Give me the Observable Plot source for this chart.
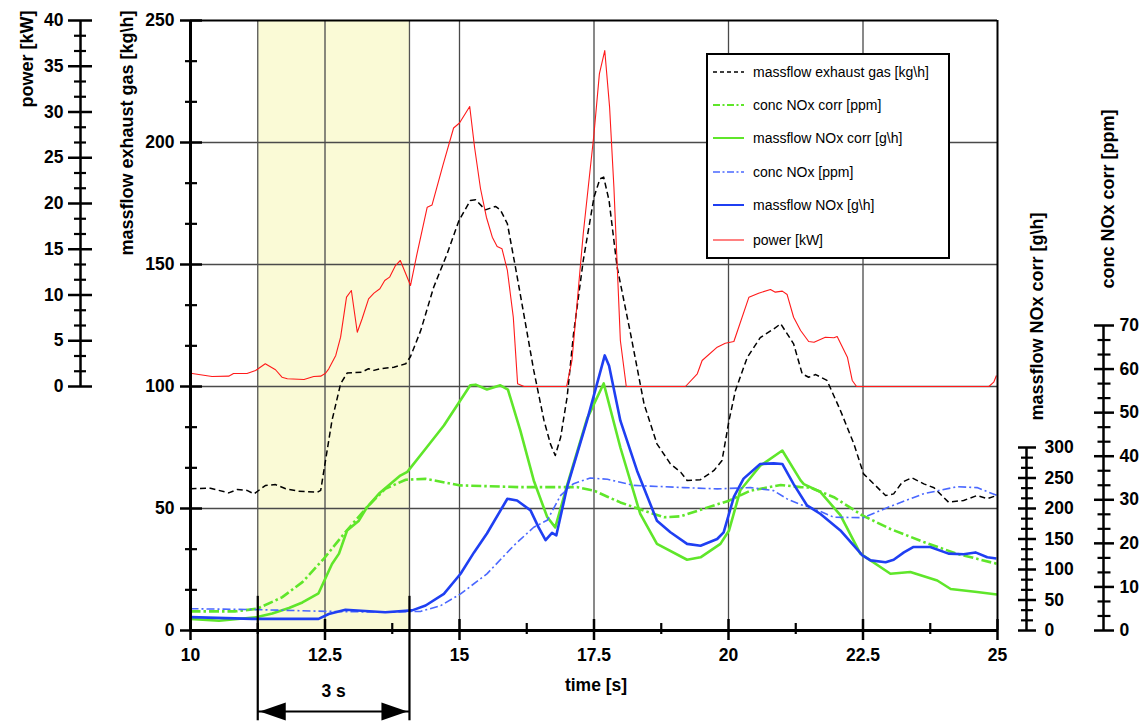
<!DOCTYPE html>
<html>
<head>
<meta charset="utf-8">
<script src="https://cdn.jsdelivr.net/npm/d3@7"></script>
<script src="https://cdn.jsdelivr.net/npm/@observablehq/plot@0.6"></script>
<style>
  body { margin: 0; background: #fff; }
  #wrap { position: relative; width: 1145px; height: 722px; font-family: "Liberation Sans", Arial, sans-serif; }
  #legend { position: absolute; left: 706px; top: 53px; }
</style>
</head>
<body>
<div id="wrap"></div>
<script>
// ---------- data (time [s], value in the series' own unit) ----------
const powerKW = [[10.00,1.45],[10.40,1.09],[10.71,1.13],[10.80,1.42],[11.05,1.42],[11.21,1.75],[11.39,2.48],[11.58,1.83],[11.70,1.02],[11.80,0.84],[12.11,0.77],[12.29,1.09],[12.42,1.13],[12.51,1.45],[12.57,1.93],[12.70,3.39],[12.79,5.39],[12.90,9.76],[12.99,10.49],[13.10,5.93],[13.19,7.40],[13.31,9.58],[13.41,10.20],[13.52,10.68],[13.61,11.58],[13.70,11.95],[13.81,13.22],[13.90,13.77],[14.09,11.04],[14.21,14.50],[14.40,19.60],[14.49,19.84],[14.69,24.15],[14.89,28.25],[15.00,28.80],[15.19,30.60],[15.28,26.15],[15.39,21.64],[15.50,18.50],[15.61,16.32],[15.70,15.30],[15.79,15.05],[15.89,12.68],[16.00,7.57],[16.08,0.30],[16.20,0],[16.99,0],[17.09,2.84],[17.19,9.40],[17.30,16.69],[17.50,27.62],[17.60,34.17],[17.70,36.72],[17.79,30.52],[17.87,21.78],[17.99,5.03],[18.10,0],[19.20,0],[19.42,1.39],[19.51,2.84],[19.79,4.30],[19.94,4.73],[20.10,4.92],[20.38,9.76],[20.56,10.20],[20.78,10.60],[20.87,10.31],[21.00,10.42],[21.09,10.05],[21.21,7.57],[21.34,6.12],[21.49,4.92],[21.59,4.84],[21.80,5.39],[21.96,5.32],[22.02,5.46],[22.21,3.20],[22.30,0.66],[22.38,0],[24.84,0],[24.93,0.47],[24.98,1.20]];

const exhaustKgh = [[10.00,58.1],[10.37,58.3],[10.71,56.4],[10.87,57.8],[11.05,57.4],[11.18,56.0],[11.39,59.4],[11.58,59.8],[11.77,58.1],[12.01,57.1],[12.36,56.7],[12.42,57.4],[12.51,69.7],[12.63,86.1],[12.79,101.1],[12.91,105.5],[13.19,105.9],[13.31,107.3],[13.41,106.6],[13.53,107.3],[13.78,107.9],[14.00,109.3],[14.09,112.3],[14.28,123.0],[14.52,140.7],[14.77,154.4],[14.99,168.0],[15.20,176.2],[15.30,176.5],[15.48,172.4],[15.67,173.8],[15.76,172.4],[15.89,166.7],[16.04,148.9],[16.26,121.6],[16.38,106.6],[16.57,86.1],[16.69,76.5],[16.78,71.7],[16.88,79.2],[17.00,95.6],[17.12,121.6],[17.30,151.6],[17.50,177.6],[17.61,185.1],[17.68,185.8],[17.78,176.2],[17.93,148.9],[18.18,121.6],[18.43,92.9],[18.67,76.5],[18.92,68.3],[19.11,64.9],[19.23,61.5],[19.48,61.8],[19.73,65.6],[19.88,69.7],[20.01,86.1],[20.13,98.4],[20.35,112.0],[20.59,120.0],[20.84,123.6],[20.97,125.7],[21.21,117.5],[21.37,105.2],[21.49,103.8],[21.62,104.9],[21.83,102.5],[22.08,90.2],[22.33,76.5],[22.51,64.2],[22.70,60.1],[22.92,55.3],[23.07,56.0],[23.23,60.8],[23.41,62.6],[23.63,60.1],[23.82,58.5],[24.09,52.6],[24.37,53.3],[24.62,55.3],[24.81,54.0],[24.98,55.3]];

const concNOxCorrPpm = [[10.00,4.4],[10.84,4.4],[11.24,5.0],[11.70,7.6],[12.08,11.1],[12.48,16.5],[12.88,22.6],[13.28,28.3],[13.62,32.5],[14.00,34.6],[14.37,34.8],[15.02,33.3],[16.13,32.9],[16.88,32.9],[17.19,32.9],[17.50,32.1],[17.75,30.7],[17.99,29.4],[18.43,27.5],[18.80,26.0],[19.11,26.2],[19.60,28.2],[20.01,29.8],[20.41,32.1],[20.97,33.4],[21.34,32.9],[21.52,32.8],[21.96,30.6],[22.49,26.4],[23.01,23.3],[23.63,20.3],[24.25,17.6],[24.99,15.3]];

const massflowNOxCorrGh = [[10.00,19],[10.53,16],[11.24,22],[11.52,28],[11.83,37],[12.08,46],[12.38,61],[12.63,109],[12.76,126],[12.91,164],[13.13,180],[13.28,202],[13.50,224],[13.90,254],[14.03,260],[14.37,298],[14.71,336],[15.20,402],[15.30,403],[15.51,395],[15.76,402],[15.90,395],[16.13,328],[16.38,246],[16.63,186],[16.78,169],[17.00,238],[17.37,347],[17.68,405],[17.99,300],[18.36,191],[18.67,142],[19.23,116],[19.48,120],[19.85,142],[20.01,164],[20.22,230],[20.59,270],[21.00,295],[21.34,246],[21.40,240],[21.71,227],[22.08,189],[22.45,126],[23.01,93],[23.38,96],[23.88,82],[24.13,68],[24.62,63],[24.99,59]];

const concNOxPpm = [[10.00,5.0],[11.21,4.8],[12.51,4.4],[13.62,4.2],[14.28,4.4],[14.65,5.7],[15.02,8.4],[15.51,13.0],[16.01,19.5],[16.38,23.7],[16.63,25.3],[16.88,31.0],[17.12,33.7],[17.43,35.0],[17.75,34.7],[18.24,33.3],[19.17,32.8],[19.79,32.5],[20.41,32.8],[20.84,32.1],[21.09,30.2],[21.34,28.9],[21.52,28.3],[21.96,26.0],[22.51,25.9],[23.01,28.5],[23.63,31.4],[24.25,33.0],[24.62,32.8],[24.99,31.0]];

const massflowNOxGh = [[10.00,22],[11.15,19],[12.38,19],[12.57,27],[12.88,34],[13.62,30],[14.12,33],[14.37,41],[14.71,60],[15.02,93],[15.27,128],[15.51,159],[15.89,216],[16.07,213],[16.32,197],[16.47,169],[16.60,148],[16.72,160],[16.80,156],[17.00,235],[17.37,344],[17.70,451],[17.78,434],[17.99,344],[18.30,262],[18.67,180],[18.92,161],[19.23,142],[19.48,139],[19.79,150],[19.91,161],[20.10,219],[20.28,249],[20.59,273],[20.84,274],[21.00,273],[21.21,240],[21.46,205],[21.71,191],[22.08,164],[22.49,123],[22.64,115],[22.92,112],[23.07,116],[23.26,128],[23.44,137],[23.75,137],[24.09,126],[24.37,125],[24.59,128],[24.81,120],[24.98,118]];

// tick labels
const xTicks = [10, 12.5, 15, 17.5, 20, 22.5, 25];
const yTicks = [0, 50, 100, 150, 200, 250];        // massflow exhaust gas [kg\h]
const powerTicks = [0, 5, 10, 15, 20, 25, 30, 35, 40]; // power [kW]
const ghTicks = [0, 50, 100, 150, 200, 250, 300];   // massflow NOx corr [g\h]
const ppmTicks = [0, 10, 20, 30, 40, 50, 60, 70];   // conc NOx corr [ppm]

// highlighted window
const windowSpan = {start: 11.25, end: 14.07, label: "3 s"};

// ---------- secondary axes -> primary (kg\h) axis ----------
const conv = {
  kgh: v => v,
  kW: v => 100 + v * 3.75,       // 0..40 kW  <-> 100..250
  gh: v => v / 4,                // 0..300 g\h <-> 0..75
  ppm: v => v * 125 / 70         // 0..70 ppm <-> 0..125
};
const inv = {
  kW: d => (d - 100) / 3.75,
  gh: d => d * 4,
  ppm: d => d * 70 / 125
};

const series = [
  {name: "massflow exhaust gas [kg\\h]", data: exhaustKgh, unit: "kgh", stroke: "#000000", width: 1.5, dash: "6,3.5"},
  {name: "conc NOx corr [ppm]", data: concNOxCorrPpm, unit: "ppm", stroke: "#5fe62a", width: 2.6, dash: "10,3,2.5,3"},
  {name: "massflow NOx corr [g\\h]", data: massflowNOxCorrGh, unit: "gh", stroke: "#5fe62a", width: 2.6, dash: null},
  {name: "conc NOx [ppm]", data: concNOxPpm, unit: "ppm", stroke: "#4a68ff", width: 1.6, dash: "8,3,2,3"},
  {name: "massflow NOx [g\\h]", data: massflowNOxGh, unit: "gh", stroke: "#1f3ff2", width: 2.6, dash: null},
  {name: "power [kW]", data: powerKW, unit: "kW", stroke: "#ff1a1a", width: 1.1, dash: null}
];

const rows = series.flatMap(s => s.data.map(([t, v]) => ({series: s.name, t, y: conv[s.unit](v)})));

// minor ticks
const minor = (lo, hi, step, majorStep) =>
  d3.range(0, Math.round((hi - lo) / step) + 1).map(i => lo + i * step)
    .filter(v => Math.abs((v - lo) / majorStep - Math.round((v - lo) / majorStep)) > 1e-6);

const yMinor = minor(0, 250, 50 / 3, 50);
const powerMinor = minor(0, 40, 5 / 3, 5).map(conv.kW);
const ghMinor = minor(0, 300, 50 / 3, 50).map(conv.gh);
const ppmMinor = minor(0, 70, 10 / 3, 10).map(conv.ppm);
const xMinorTicks = minor(10, 25, 1.25, 2.5);

const font = {fontSize: 17.5, fontWeight: "bold"};
const titleFont = {fontSize: 18, fontWeight: "bold"};

const triLeft = {draw(c) { c.moveTo(0, 0); c.lineTo(26, -9); c.lineTo(26, 9); c.closePath(); }};
const triRight = {draw(c) { c.moveTo(0, 0); c.lineTo(-26, -9); c.lineTo(-26, 9); c.closePath(); }};

const marks = [
  // highlighted window
  Plot.rect([windowSpan], {x1: "start", x2: "end", y1: 0, y2: 250, fill: "#fafad6"}),
  // grid
  Plot.gridX([12.5, 15, 17.5, 20, 22.5], {stroke: "#4a4a4a", strokeOpacity: 1, strokeWidth: 1.3}),
  Plot.gridY([50, 100, 150, 200], {stroke: "#4a4a4a", strokeOpacity: 1, strokeWidth: 1.3}),
  Plot.ruleX([windowSpan.start, windowSpan.end], {stroke: "#555", strokeWidth: 1.3}),
  // data lines
  ...series.map(s => Plot.line(rows.filter(r => r.series === s.name), {
    x: "t", y: "y", stroke: s.stroke, strokeWidth: s.width,
    strokeDasharray: s.dash, strokeLinejoin: "round", strokeLinecap: "butt"
  })),
  // frame
  Plot.ruleY([250], {stroke: "#000", strokeWidth: 2}),
  Plot.ruleX([25], {stroke: "#000", strokeWidth: 2}),
  Plot.ruleY([0], {stroke: "#000", strokeWidth: 3}),
  Plot.ruleX([10], {stroke: "#000", strokeWidth: 3}),

  // main left axis (massflow exhaust gas)
  Plot.axisY(yTicks, {anchor: "left", tickSize: 22, dx: 12, tickPadding: 6, strokeWidth: 2.5, label: null, ...font}),
  Plot.axisY(yMinor, {anchor: "left", tickSize: 12, dx: 7, strokeWidth: 2.2, fill: "none", label: null}),

  // power axis
  Plot.ruleX([10], {y1: conv.kW(0), y2: conv.kW(40), dx: -110, stroke: "#000", strokeWidth: 2.5}),
  Plot.axisY(powerTicks.map(conv.kW), {anchor: "left", tickSize: 24, dx: -98, tickPadding: 5, strokeWidth: 2.5,
    tickFormat: d => String(Math.round(inv.kW(d))), label: null, ...font}),
  Plot.axisY(powerMinor, {anchor: "left", tickSize: 12, dx: -104, strokeWidth: 2.2, fill: "none", label: null}),

  // massflow NOx corr axis (right)
  Plot.ruleX([25], {y1: conv.gh(0), y2: conv.gh(300), dx: 29, stroke: "#000", strokeWidth: 2.5}),
  Plot.axisY(ghTicks.map(conv.gh), {anchor: "right", tickSize: 18, dx: 20, tickPadding: 9, strokeWidth: 2.5,
    tickFormat: d => String(Math.round(inv.gh(d))), label: null, ...font}),
  Plot.axisY(ghMinor, {anchor: "right", tickSize: 12, dx: 23, strokeWidth: 2.2, fill: "none", label: null}),

  // conc NOx corr axis (right, outer)
  Plot.ruleX([25], {y1: conv.ppm(0), y2: conv.ppm(70), dx: 106, stroke: "#000", strokeWidth: 2.5}),
  Plot.axisY(ppmTicks.map(conv.ppm), {anchor: "right", tickSize: 20, dx: 96, tickPadding: 6, strokeWidth: 2.5,
    tickFormat: d => String(Math.round(inv.ppm(d))), label: null, ...font}),
  Plot.axisY(ppmMinor, {anchor: "right", tickSize: 13, dx: 99.5, strokeWidth: 2.2, fill: "none", label: null}),

  // x axis
  Plot.axisX(xTicks, {anchor: "bottom", tickSize: 21, dy: -11, tickPadding: 8, strokeWidth: 2.5,
    tickFormat: d => String(d), label: null, ...font}),
  Plot.axisX(xMinorTicks, {anchor: "bottom", tickSize: 11, dy: -7, strokeWidth: 2.2, fill: "none", label: null}),

  // window annotation below the axis
  Plot.ruleX([windowSpan.start, windowSpan.end], {y1: 14, y2: -37, stroke: "#000", strokeWidth: 2.2}),
  Plot.ruleY([0], {x1: windowSpan.start, x2: windowSpan.end, dy: 81, stroke: "#000", strokeWidth: 2.2}),
  Plot.dot([windowSpan], {x: "start", frameAnchor: "bottom", dy: 81, symbol: triLeft, fill: "#000", stroke: "none", dx: 2}),
  Plot.dot([windowSpan], {x: "end", frameAnchor: "bottom", dy: 81, symbol: triRight, fill: "#000", stroke: "none", dx: -2}),
  Plot.text([windowSpan], {x: d => (d.start + d.end) / 2, text: "label", frameAnchor: "bottom", dy: 66, ...font}),

  // axis titles
  Plot.text(["time [s]"], {text: d => d, frameAnchor: "bottom", dx: 2, dy: 60, ...font}),
  Plot.text(["power [kW]"], {text: d => d, frameAnchor: "top-left", dx: -170, dy: -10, rotate: -90, textAnchor: "end", ...titleFont}),
  Plot.text(["massflow exhaust gas [kg\\h]"], {text: d => d, frameAnchor: "top-left", dx: -70, dy: -10, rotate: -90, textAnchor: "end", ...titleFont}),
  Plot.text(["massflow NOx corr [g\\h]"], {text: d => d, frameAnchor: "top-right", dx: 33, dy: 400, rotate: -90, textAnchor: "start", ...titleFont}),
  Plot.text(["conc NOx corr [ppm]"], {text: d => d, frameAnchor: "top-right", dx: 104, dy: 268, rotate: -90, textAnchor: "start", ...titleFont})
];

const chart = Plot.plot({
  width: 1145,
  height: 722,
  marginLeft: 190,
  marginRight: 148,
  marginTop: 20,
  marginBottom: 92,
  x: {domain: [10, 25], label: null},
  y: {domain: [0, 250], label: null},
  style: {fontFamily: '"Liberation Sans", Arial, sans-serif', background: "#fff", overflow: "visible", color: "#000"},
  marks
});
document.getElementById("wrap").appendChild(chart);

// ---------- legend (inside the plot, top right) ----------
const lg = d3.select("#wrap").append("svg")
  .attr("id", "legend").attr("width", 246).attr("height", 208);
lg.append("rect").attr("x", 1).attr("y", 1).attr("width", 242).attr("height", 204)
  .attr("fill", "#fff").attr("stroke", "#000").attr("stroke-width", 2);
const rowY = [19, 52, 85, 119, 152, 187];
series.forEach((s, i) => {
  lg.append("line").attr("x1", 7).attr("x2", 38).attr("y1", rowY[i]).attr("y2", rowY[i])
    .attr("stroke", s.stroke).attr("stroke-width", Math.min(s.width, 2))
    .attr("stroke-dasharray", s.dash ? (s.unit === "kgh" ? "4,3" : "7,2.5,2,2.5") : null);
  lg.append("text").attr("x", 47).attr("y", rowY[i]).attr("dy", "0.35em")
    .attr("font-family", '"Liberation Sans", Arial, sans-serif').attr("font-size", 14)
    .attr("fill", "#000").text(s.name);
});
</script>
</body>
</html>
